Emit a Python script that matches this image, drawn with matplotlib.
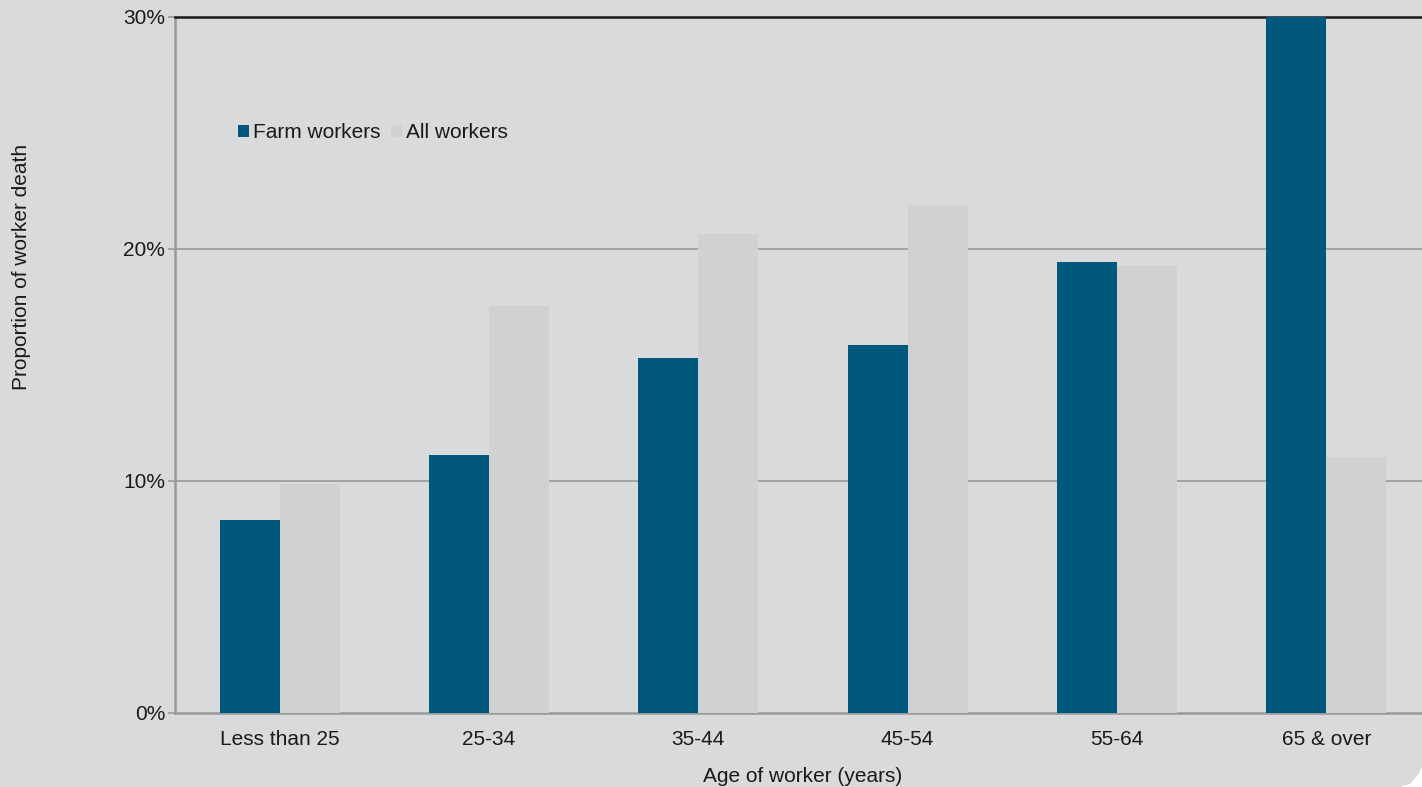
import matplotlib
matplotlib.use("Agg")
import matplotlib.pyplot as plt
import numpy as np
from matplotlib.patches import Polygon

categories = ["Less than 25", "25-34", "35-44", "45-54", "55-64", "65 & over"]
farm_workers = [8.3, 11.1, 15.3, 15.85, 19.45, 30.0]
all_workers = [9.85, 17.55, 20.65, 21.9, 19.25, 11.05]
yticks = [0, 10, 20, 30]
ytick_labels = ["0%", "10%", "20%", "30%"]

plt.rcParams["font.family"] = ["Liberation Sans", "DejaVu Sans"]

W, H = 1422, 787
bg = "#d9dadc"
farm_c = "#00587c"
all_c = "#d0d1d3"
txt = "#1a1a1a"
fs = 15

fig = plt.figure(figsize=(W/100, H/100), dpi=100, facecolor=bg)
ax = fig.add_axes([175/W, (H-713)/H, 1256/W, (713-17)/H])
ax.set_facecolor(bg)

x = np.arange(len(categories))
bw = 0.287
ax.bar(x - bw/2, farm_workers, bw, color=farm_c, label="Farm workers", zorder=3)
ax.bar(x + bw/2, all_workers, bw, color=all_c, label="All workers", zorder=3)

ax.set_xlim(-0.5, len(categories) - 0.5)
ax.set_ylim(0, 30)
ax.set_yticks(yticks)
ax.set_yticklabels(ytick_labels, fontsize=fs, color=txt)
ax.set_xticks(x)
ax.set_xticklabels(categories, fontsize=fs, color=txt)
ax.tick_params(axis="x", length=0, pad=12)
ax.tick_params(axis="y", length=5, color="#999999", width=1.2, pad=2)

for yv in [10, 20]:
    ax.axhline(yv, color="#999999", lw=1.2, zorder=1)

for s in ["left", "bottom"]:
    ax.spines[s].set_color("#999999")
    ax.spines[s].set_linewidth(1.8)
ax.spines["top"].set_color(txt)
ax.spines["top"].set_linewidth(1.8)
ax.spines["right"].set_visible(False)

leg = ax.legend(loc="center left", bbox_to_anchor=(238/W, 1 - 133/H),
                bbox_transform=fig.transFigure, ncol=2,
                frameon=False, fontsize=fs, handlelength=0.53, handleheight=0.5,
                handletextpad=0.2, columnspacing=0.5, borderaxespad=0, borderpad=0)
for t in leg.get_texts():
    t.set_color(txt)

fig.text(803/W, 1 - 776/H, "Age of worker (years)", ha="center", va="center",
         fontsize=fs, color=txt)
fig.text(22/W, 1 - 267/H, "Proportion of worker death", ha="center", va="center",
         rotation=90, fontsize=fs, color=txt)

# page curl at bottom right corner
curl = Polygon([(1422/W, 0), (1422/W, 20/H), (1418/W, 12/H), (1410/W, 3/H), (1400/W, 0)],
               closed=True, transform=fig.transFigure, facecolor="white", edgecolor="none")
fig.patches.append(curl)

fig.savefig("out.png", dpi=100, facecolor=bg)
